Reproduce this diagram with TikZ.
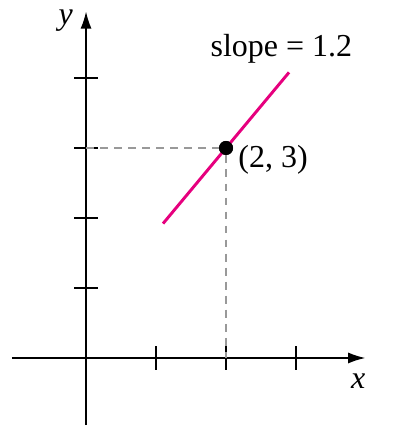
\documentclass[tikz,border=0pt]{standalone}
\usepackage{fontspec}
\setmainfont{Liberation Serif}
\usetikzlibrary{arrows.meta}
\definecolor{slopepink}{RGB}{230,0,126}
\tikzset{tick/.style={line width=0.5pt}}
\begin{document}
\begin{tikzpicture}[font=\fontsize{13}{15}\selectfont]
\useasboundingbox (-1.229,-1.286) rectangle (4.514,5.114);
\coordinate (O) at (0,0);
\coordinate (xl) at (-1.06,0);
\coordinate (xr) at (3.99,0);
\coordinate (yb) at (0,-0.96);
\coordinate (yt) at (0,4.95);
\draw[-{Latex[length=7pt,width=4.5pt]},line width=0.6pt] (xl) -- (xr);
\draw[-{Latex[length=7pt,width=4.5pt]},line width=0.6pt] (yb) -- (yt);
\foreach \i in {1,2,3} \draw[tick] (\i,-0.17) -- (\i,0.17);
\foreach \j in {1,2,3,4} \draw[tick] (-0.17,\j) -- (0.17,\j);
\node[font=\fontsize{13}{15}\selectfont\itshape] (xlab) at (3.89,-0.33) {x};
\node[font=\fontsize{13}{15}\selectfont\itshape] (ylab) at (-0.29,4.82) {y};
\coordinate (Px) at (2,0);
\coordinate (Py) at (0,3);
\node[circle,fill=black,inner sep=0pt,minimum size=0.2cm] (P) at (2,3) {};
\draw[dashed,gray!80,line width=0.5pt,dash pattern=on 3.2pt off 2.5pt] (Py) -- (P.west);
\draw[dashed,gray!80,line width=0.5pt,dash pattern=on 3.2pt off 2.5pt] (P.south) -- (Px);
\coordinate (A) at (1.1,1.92);
\coordinate (B) at (2.9,4.08);
\draw[slopepink,line width=1.2pt] (A) -- (B);
\node[circle,fill=black,inner sep=0pt,minimum size=0.2cm] at (P) {};
\node[anchor=west,inner sep=0pt] (plab) at (2.17,2.83) {(2, 3)};
\node (slab) at (2.79,4.41) {slope = 1.2};
\end{tikzpicture}
\end{document}
